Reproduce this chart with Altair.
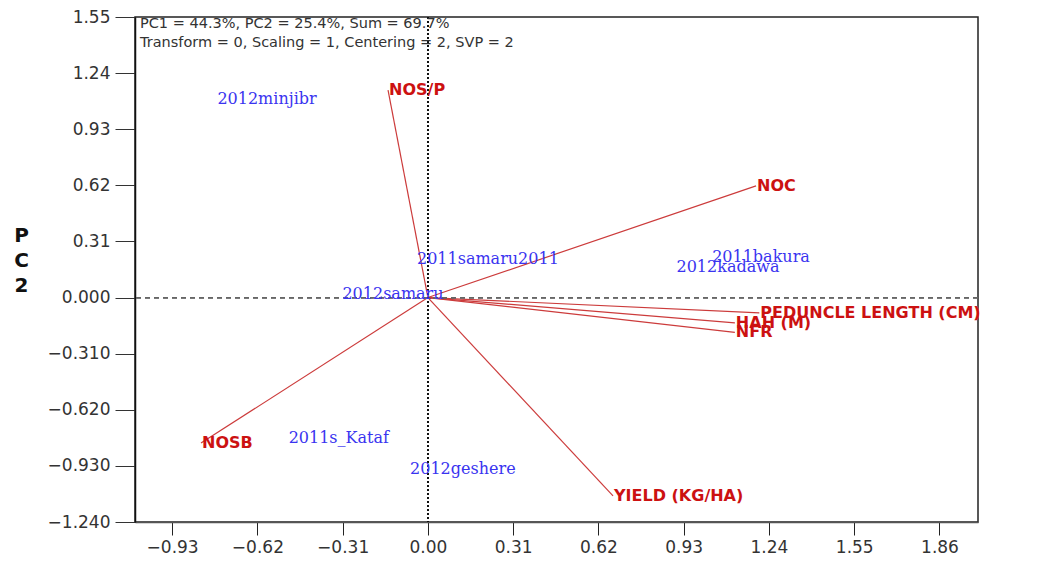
import altair as alt
import pandas as pd

# Variable vectors (red)
var_names = ["NOS/P", "NOC", "PEDUNCLE LENGTH (CM)", "HAH (M)", "NFR", "YIELD (KG/HA)", "NOSB"]
var_pc1 = [-0.145, 1.193, 1.205, 1.116, 1.116, 0.673, -0.825]
var_pc2 = [1.146, 0.617, -0.085, -0.140, -0.192, -1.096, -0.804]

# Genotype/environment labels (blue)
gen_names = ["2012minjibr", "2011samaru2011", "2012samaru", "2011bakura",
             "2012kadawa", "2011s_Kataf", "2012geshere"]
gen_pc1 = [-0.585, 0.218, -0.127, 1.211, 1.091, -0.324, 0.127]
gen_pc2 = [1.096, 0.215, 0.022, 0.226, 0.171, -0.777, -0.948]

x_ticks = [-0.93, -0.62, -0.31, 0.0, 0.31, 0.62, 0.93, 1.24, 1.55, 1.86]
y_ticks = [-1.24, -0.93, -0.62, -0.31, 0.0, 0.31, 0.62, 0.93, 1.24, 1.55]
x_domain = [-1.065, 2.0]
y_domain = [-1.24, 1.55]

info_line1 = "PC1 = 44.3%, PC2 = 25.4%, Sum = 69.7%"
info_line2 = "Transform = 0, Scaling = 1, Centering = 2, SVP = 2"

vars_df = pd.DataFrame({"name": var_names, "pc1": var_pc1, "pc2": var_pc2,
                        "x0": [0.0] * len(var_names), "y0": [0.0] * len(var_names)})
gen_df = pd.DataFrame({"name": gen_names, "pc1": gen_pc1, "pc2": gen_pc2})

xs = alt.Scale(domain=x_domain, nice=False, zero=False)
ys = alt.Scale(domain=y_domain, nice=False, zero=False)

x_enc = alt.X("pc1:Q", scale=xs, axis=alt.Axis(
    values=x_ticks, format=".2f", title=None, grid=False,
    tickSize=13, labelPadding=4, labelFontSize=17, labelFont="DejaVu Sans",
    labelColor="#333333", tickColor="#222222", domainColor="#555555", domainWidth=1.5,
    labelFlush=False))
y_enc = alt.Y("pc2:Q", scale=ys, axis=alt.Axis(
    values=y_ticks, title=["P", "C", "2"], titleAngle=0, titleFontSize=20,
    titleFont="DejaVu Sans", titleFontWeight="bold", titleColor="#111111",
    titleAlign="center", titleBaseline="top", titleX=-114, titleY=208,
    titleLineHeight=25,
    labelExpr="datum.value > 0.1 ? format(datum.value, '.2f') : format(datum.value, '.3f')",
    grid=False, tickSize=20, labelPadding=5, labelFontSize=17, labelFont="DejaVu Sans",
    labelColor="#333333", tickColor="#333333", domainColor="#111111", domainWidth=1.5,
    labelFlush=False))

base = alt.Chart(vars_df)

vectors = base.mark_rule(color="#cc3b3b", strokeWidth=1.2).encode(
    x=x_enc, y=y_enc, x2="x0:Q", y2="y0:Q")

hline = base.mark_rule(
    color="#666666", strokeDash=[5, 4], strokeWidth=1.2
).encode(y=alt.datum(0))

vline = base.mark_rule(
    color="#111111", strokeDash=[2, 2], strokeWidth=1.3
).encode(x=alt.datum(0))

var_labels = base.mark_text(
    align="left", baseline="middle", dx=1, font="DejaVu Sans", fontWeight="bold",
    fontSize=16, color="#cc1111"
).encode(x="pc1:Q", y="pc2:Q", text="name:N")

gen_labels = alt.Chart(gen_df).mark_text(
    align="center", baseline="middle", font="DejaVu Serif", fontSize=16,
    color="#3a34f0"
).encode(x="pc1:Q", y="pc2:Q", text="name:N")

info1 = alt.Chart(pd.DataFrame({"t": [info_line1]})).mark_text(
    align="left", baseline="middle", font="DejaVu Sans", fontSize=14.5, color="#333333"
).encode(x=alt.value(5), y=alt.value(7), text="t:N")

info2 = alt.Chart(pd.DataFrame({"t": [info_line2]})).mark_text(
    align="left", baseline="middle", font="DejaVu Sans", fontSize=14.5, color="#333333"
).encode(x=alt.value(5), y=alt.value(26), text="t:N")

chart = alt.layer(vectors, hline, vline, var_labels, gen_labels, info1, info2).properties(
    width=843, height=505,
    autosize=alt.AutoSizeParams(type="none"),
    padding={"left": 127, "top": 9, "right": 70, "bottom": 40},
    background="white",
).configure_view(stroke="#222222", strokeWidth=1.5)

chart.save("out.html", embed_options={"renderer": "svg", "actions": False})
